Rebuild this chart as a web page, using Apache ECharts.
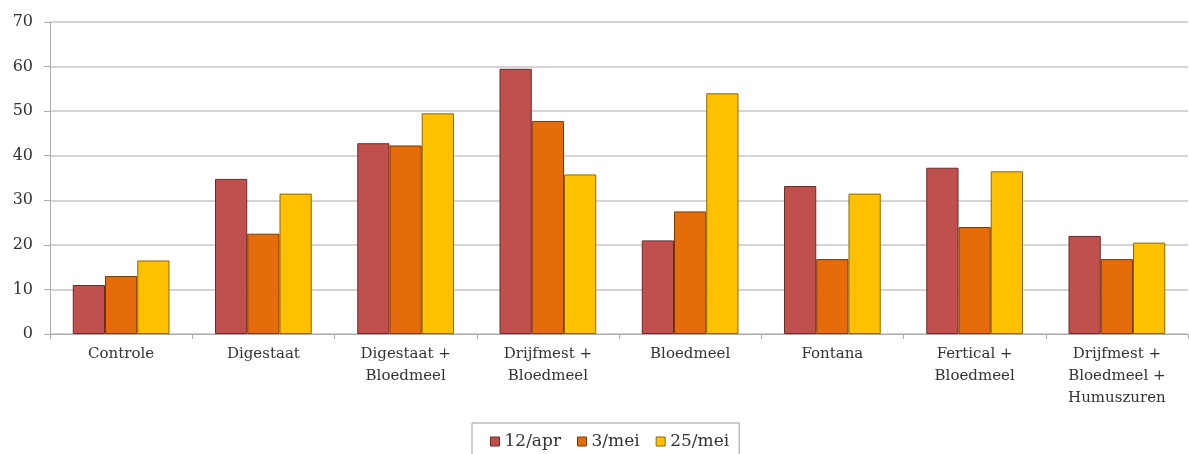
<!DOCTYPE html>
<html>
<head>
<meta charset="utf-8">
<script src="https://cdn.jsdelivr.net/npm/echarts@6/dist/echarts.min.js"></script>
<style>html,body{margin:0;padding:0;background:#fff;}#c{width:1189px;height:454px;}</style>
</head>
<body>
<div id="c"></div>
<script>
const categories = ['Controle', 'Digestaat', 'Digestaat +\nBloedmeel', 'Drijfmest +\nBloedmeel', 'Bloedmeel', 'Fontana', 'Fertical +\nBloedmeel', 'Drijfmest +\nBloedmeel +\nHumuszuren'];
const seriesNames = ['12/apr', '3/mei', '25/mei'];
const apr12 = [11, 34.8, 42.8, 59.5, 21, 33.2, 37.3, 22];
const mei3 = [13, 22.5, 42.3, 47.8, 27.5, 16.8, 24, 16.8];
const mei25 = [16.5, 31.5, 49.5, 35.8, 54, 31.5, 36.5, 20.5];
const yTicks = [0, 10, 20, 30, 40, 50, 60, 70];

const colors = ['#C0504D', '#E46C0A', '#FFC000'];
const borders = ['#6e2a28', '#7a3a05', '#8a6a00'];
const font = '"DejaVu Serif", "Liberation Serif", serif';
const data = [apr12, mei3, mei25];

const chart = echarts.init(document.getElementById('c'));
chart.setOption({
  animation: false,
  grid: { left: 50, right: 1, top: 22, bottom: 120 },
  legend: {
    left: 472, top: 423,
    padding: [10, 10, 12, 18],
    itemGap: 16, itemWidth: 9, itemHeight: 9,
    borderColor: '#999', borderWidth: 1,
    textStyle: { fontFamily: font, fontSize: 17, color: '#333' },
    data: seriesNames.map((n, i) => ({ name: n, icon: 'rect', itemStyle: { color: colors[i], borderColor: borders[i], borderWidth: 1 } }))
  },
  xAxis: {
    type: 'category',
    data: categories,
    axisLine: { lineStyle: { color: '#aaa', width: 1 } },
    axisTick: { show: true, length: 5, lineStyle: { color: '#aaa' } },
    axisLabel: { fontFamily: font, fontSize: 15, color: '#333', lineHeight: 22, margin: 9, interval: 0 }
  },
  yAxis: {
    type: 'value', min: yTicks[0], max: yTicks[yTicks.length - 1], interval: 10,
    axisLine: { show: true, lineStyle: { color: '#aaa', width: 1 } },
    axisTick: { show: true, length: 6, lineStyle: { color: '#aaa' } },
    splitLine: { lineStyle: { color: '#d4d4d4', width: 2 } },
    axisLabel: { fontFamily: font, fontSize: 16, color: '#333', margin: 17 }
  },
  series: seriesNames.map((n, i) => ({
    name: n, type: 'bar', data: data[i],
    barGap: '0%', barCategoryGap: '32%',
    itemStyle: { color: colors[i], borderColor: borders[i], borderWidth: 1 }
  }))
});
</script>
</body>
</html>
